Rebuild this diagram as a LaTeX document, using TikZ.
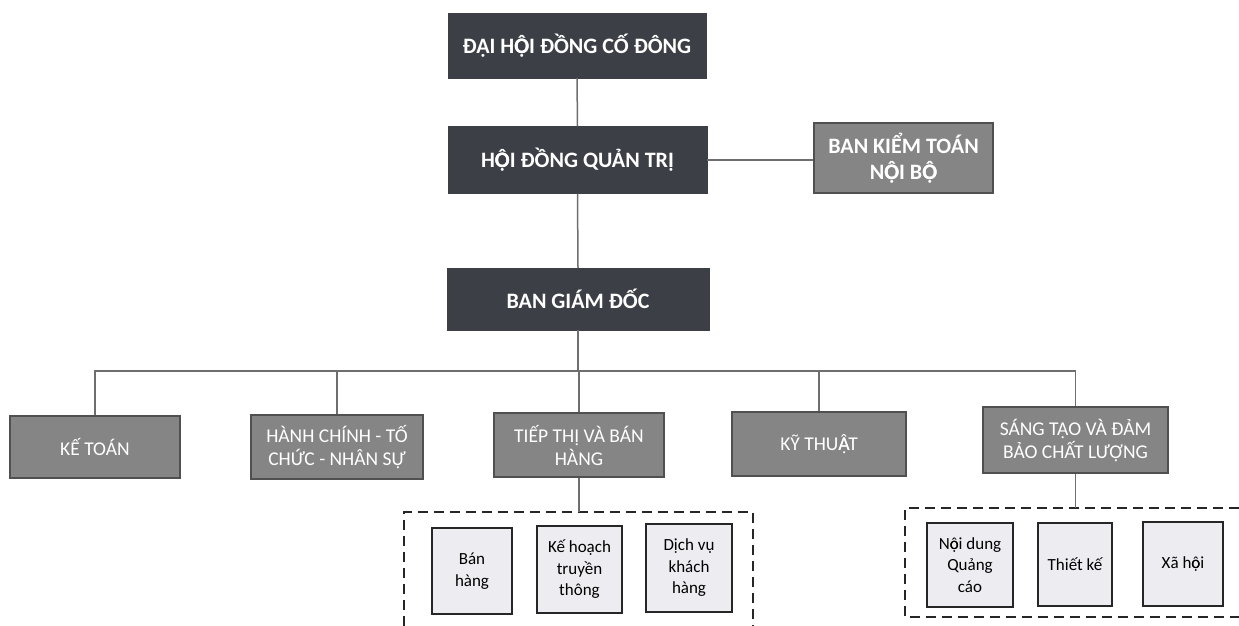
\documentclass[tikz,border=0pt]{standalone}
\usepackage{fontspec}
\setmainfont{Carlito}
\newcommand\Ohd{\rlap{Ô}Ọ}
\newcommand\ohd{\rlap{ô}ọ}
\newcommand\Ahd{\rlap{Â}Ạ}
\definecolor{darkfill}{HTML}{3C3F45}
\definecolor{midfill}{HTML}{858585}
\definecolor{midline}{HTML}{505050}
\definecolor{lightfill}{HTML}{ECECF1}
\definecolor{connector}{HTML}{6E6E6E}
\tikzset{
  darkbox/.style={draw=darkfill, fill=darkfill, text=white, font=\fontsize{22}{25}\selectfont\bfseries, align=center, inner sep=0pt},
  midbox/.style={draw=midline, line width=1.6pt, fill=midfill, text=white, font=\fontsize{19.5}{23}\selectfont, align=center, inner sep=0pt},
  lightbox/.style={draw=black!85, line width=1.6pt, fill=lightfill, text=black, font=\fontsize{17}{21.5}\selectfont, align=center, inner sep=0pt},
  link/.style={draw=connector, line width=1.5pt},
  group/.style={draw=black!85, line width=2pt, dash pattern=on 10pt off 6pt}
}
\begin{document}
\begin{tikzpicture}[x=1pt,y=-1pt]
\useasboundingbox (0,0) rectangle (1239,626);
% top levels
\node[darkbox, minimum width=258pt, minimum height=65pt] (dhd) at (577,45.5) {ĐẠI H\Ohd I ĐỒNG CỐ ĐÔNG};
\node[darkbox, minimum width=259pt, minimum height=67pt] (hdqt) at (577.5,160) {H\Ohd I ĐỒNG QUẢN TRỊ};
\node[midbox, font=\fontsize{22}{26}\selectfont\bfseries, minimum width=179pt, minimum height=70pt] (bkt) at (903.5,158) {BAN KIỂM TOÁN\\N\Ohd I B\Ohd};
\node[darkbox, minimum width=262pt, minimum height=62pt] (bgd) at (578,299) {BAN GIÁM ĐỐC};
% departments
\node[midbox, minimum width=170pt, minimum height=62pt] (kt) at (95,447) {KẾ TOÁN};
\node[midbox, minimum width=172pt, minimum height=64pt] (hc) at (337,447) {HÀNH CHÍNH - TỐ\\CHỨC - NHÂN SỰ};
\node[midbox, minimum width=170pt, minimum height=64pt] (tt) at (579,445) {TIẾP THỊ VÀ BÁN\\HÀNG};
\node[midbox, minimum width=174pt, minimum height=64pt] (kyt) at (819,444) {KỸ THU\Ahd T};
\node[midbox, minimum width=185pt, minimum height=66pt] (st) at (1075.5,440) {SÁNG TẠO VÀ ĐẢM\\BẢO CHẤT LƯỢNG};
% connectors
\coordinate (bus) at (578,371);
\draw[link] (dhd.south) -- (hdqt.north);
\draw[link] (hdqt.east) -- (hdqt.east -| bkt.west);
\draw[link] (hdqt.south) -- (bgd.north);
\draw[link] (bgd.south) -- (bus);
\draw[link] (kt.north) |- (bus);
\draw[link] (hc.north) |- (bus);
\draw[link] (tt.north) |- (bus);
\draw[link] (kyt.north) |- (bus);
\draw[link] (st.north) |- (bus);
% group 1
\coordinate (g1tl) at (404,512);
\coordinate (g1tr) at (753,512);
\coordinate (g1bl) at (404,626);
\coordinate (g1br) at (753,626);
\draw[group] (g1bl) -- (g1tl) -- (g1tr) -- (g1br);
\draw[link] (tt.south) -- (tt.south |- g1tl);
\node[lightbox, minimum width=80pt, minimum height=86pt] (bh) at (472,571) {Bán\\hàng};
\node[lightbox, minimum width=85pt, minimum height=87pt] (kh) at (579.5,569.5) {Kế hoạch\\truyền\\thông};
\node[lightbox, minimum width=86pt, minimum height=88pt] (dv) at (689,568) {Dịch vụ\\khách\\hàng};
% group 2
\coordinate (g2tr) at (1239,508);
\coordinate (g2tl) at (905,508);
\coordinate (g2bl) at (905,617);
\coordinate (g2br) at (1239,617);
\draw[group] (g2tr) -- (g2tl) -- (g2bl) -- (g2br);
\draw[link] (st.south) -- (st.south |- g2tl);
\node[lightbox, minimum width=86pt, minimum height=84pt] (nd) at (970,565) {N\ohd i dung\\Quảng\\cáo};
\node[lightbox, minimum width=74pt, minimum height=83pt] (tk) at (1075,564.5) {Thiết kế};
\node[lightbox, minimum width=80pt, minimum height=84pt] (xh) at (1183,564) {Xã h\ohd i};
\end{tikzpicture}
\end{document}
